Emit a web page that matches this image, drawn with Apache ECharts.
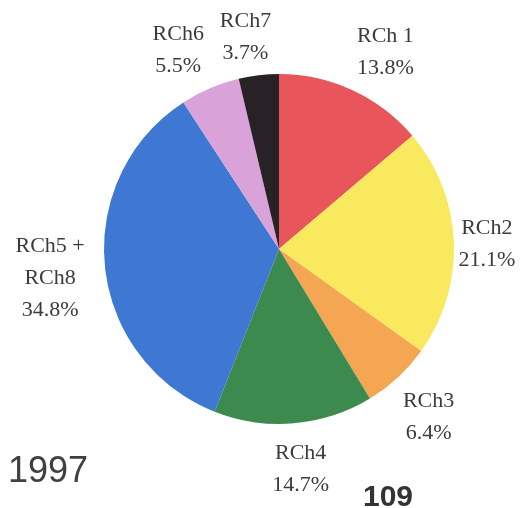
<!DOCTYPE html>
<html>
<head>
<meta charset="utf-8">
<script src="https://cdn.jsdelivr.net/npm/echarts@6/dist/echarts.min.js"></script>
<style>
  html, body { margin: 0; padding: 0; background: #fff; }
  #chart { width: 526px; height: 508px; }
</style>
</head>
<body>
<div id="chart"></div>
<script>
// data
const names = ["RCh 1", "RCh2", "RCh3", "RCh4", "RCh5 +\nRCh8", "RCh6", "RCh7"];
const shares = [13.8, 21.1, 6.4, 14.7, 34.8, 5.5, 3.7];
const colors = ["#e8555a", "#f9e95e", "#f5a653", "#3d8a4f", "#3e78d2", "#d9a2d9", "#282226"];
// small label nudges, the original labels were placed by hand
const nudges = [[14, 3], [-12, 4], [0, 7], [3, 1], [-10, 7], [-14, 3], [-8, 7]];

const chart = echarts.init(document.getElementById("chart"), null, { renderer: "canvas" });

chart.setOption({
  backgroundColor: "#ffffff",
  animation: false,
  series: [{
    type: "pie",
    center: [279, 249],
    radius: 175,
    startAngle: 90,
    clockwise: true,
    avoidLabelOverlap: false,
    data: names.map((n, i) => ({ name: n, value: shares[i], itemStyle: { color: colors[i] } })),
    itemStyle: { borderWidth: 0 },
    label: {
      show: true,
      position: "outside",
      distanceToLabelLine: 0,
      formatter: p => p.name + "\n" + p.value.toFixed(1) + "%",
      fontFamily: "Liberation Serif",
      fontSize: 22,
      lineHeight: 32,
      color: "#3b3b3b"
    },
    labelLine: { show: false, length: 45, length2: 0 },
    labelLayout: p => ({
      align: "center",
      verticalAlign: "middle",
      dx: nudges[p.dataIndex][0],
      dy: nudges[p.dataIndex][1]
    })
  }],
  graphic: [
    { type: "text", left: 8, top: 454, style: { text: "1997", font: "36px 'Liberation Sans'", fill: "#404040" } },
    { type: "text", left: 363, top: 483, style: { text: "109", font: "bold 30px 'Liberation Sans'", fill: "#333333" } }
  ]
});
</script>
</body>
</html>
